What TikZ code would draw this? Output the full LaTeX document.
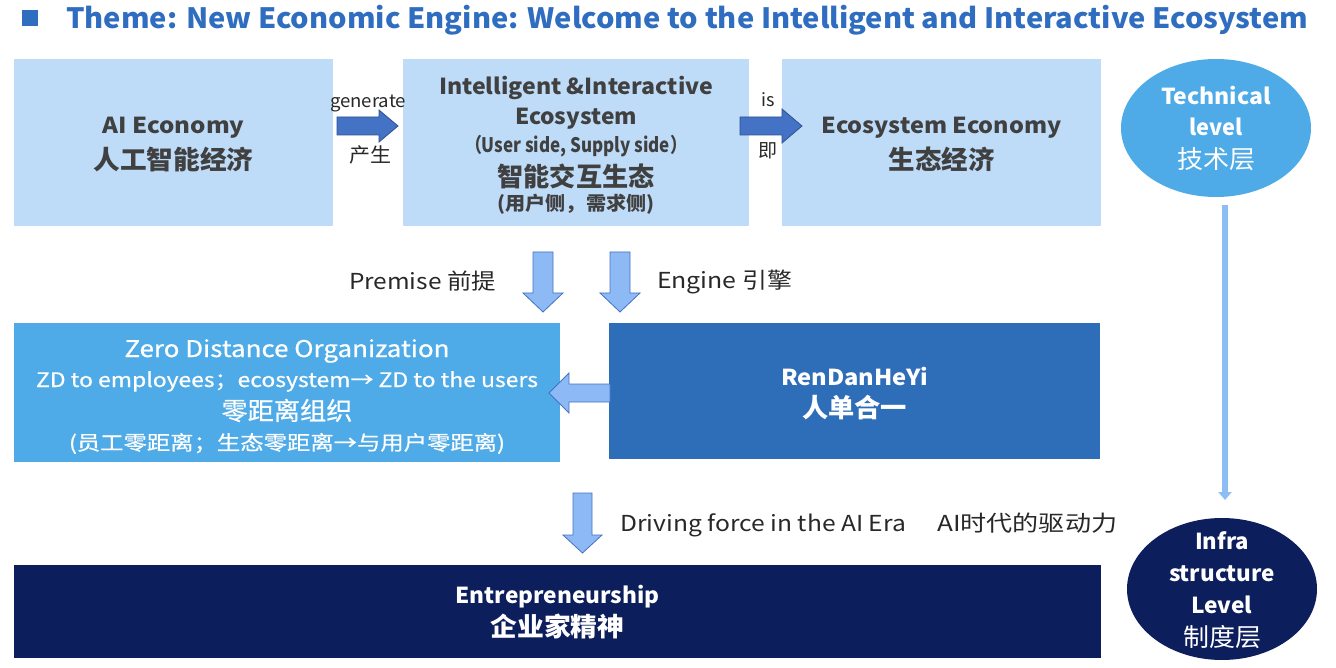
\documentclass[tikz,border=0pt]{standalone}
\usepackage{fontspec}
\usepackage{graphicx}
\setmainfont{Noto Sans CJK SC}
\newfontfamily\medfont[FakeBold=0.6]{Noto Sans CJK SC}
\usetikzlibrary{shapes.geometric,arrows.meta}
\definecolor{titleblue}{RGB}{47,109,192}
\definecolor{lightbox}{RGB}{190,219,248}
\definecolor{graytext}{RGB}{64,64,64}
\definecolor{labeltext}{RGB}{40,40,40}
\definecolor{darkarrow}{RGB}{68,114,196}
\definecolor{darkarrowline}{RGB}{47,82,143}
\definecolor{lightarrow}{RGB}{141,185,245}
\definecolor{lightarrowline}{RGB}{68,114,196}
\definecolor{skyblue}{RGB}{78,171,232}
\definecolor{midblue}{RGB}{46,109,184}
\definecolor{navyblue}{RGB}{13,30,92}
\definecolor{lineblue}{RGB}{141,189,245}
\newcommand\fw[2]{\resizebox{#1pt}{\height}{#2}}
\newcommand\fs[1]{\fontsize{#1}{#1}\selectfont}
\tikzset{
  lbox/.style={rectangle, fill=lightbox, draw=none, inner sep=0pt},
  cbox/.style={rectangle, draw=none, inner sep=0pt},
  txt/.style={inner sep=0pt, anchor=base},
  darkarr/.style={fill=darkarrow, draw=darkarrowline, line width=0.8pt, line join=miter},
  lightarr/.style={fill=lightarrow, draw=lightarrowline, line width=0.8pt, line join=miter},
}
\begin{document}
\begin{tikzpicture}[x=1pt,y=-1pt]
\useasboundingbox (0,0) rectangle (1336,668);
\fill[white] (0,0) rectangle (1336,668);
% title
\fill[titleblue] (22,10) rectangle (38,26);
\node[txt, anchor=base west, text=titleblue, font=\fs{28}\bfseries] (title) at (66,28.5)
  {\fw{1242}{Theme: New Economic Engine: Welcome to the Intelligent and Interactive Ecosystem}};
% top row boxes
\node[lbox, minimum width=319pt, minimum height=167pt] (b1) at (173.5,142.5) {};
\node[lbox, minimum width=346pt, minimum height=167pt] (b2) at (576,142.5) {};
\node[lbox, minimum width=319pt, minimum height=167pt] (b3) at (941.5,142.5) {};
\begin{scope}[text=graytext]
\node[txt, font=\fs{22}\bfseries] (t1a) at (173.5,134) {\fw{142}{AI Economy}};
\node[txt, font=\fs{26}\bfseries] (t1b) at (173.5,170) {\fw{160}{人工智能经济}};
\node[txt, font=\fs{22}\bfseries] (t2a) at (576,95) {\fw{274}{Intelligent \&Interactive}};
\node[txt, font=\fs{22}\bfseries] (t2b) at (576,125) {\fw{122}{Ecosystem}};
\node[txt, font=\fs{20}\bfseries] (t2c) at (576,153) {\fw{222}{（User side, Supply side）}};
\node[txt, font=\fs{26}\bfseries] (t2d) at (576,187) {\fw{157}{智能交互生态}};
\node[txt, font=\fs{19}\bfseries] (t2e) at (576,211) {\fw{157}{(用户侧，需求侧)}};
\node[txt, font=\fs{22}\bfseries] (t3a) at (941.5,134) {\fw{240}{Ecosystem Economy}};
\node[txt, font=\fs{26}\bfseries] (t3b) at (941.5,170) {\fw{106}{生态经济}};
\end{scope}
% generate arrow
\draw[darkarr] (337,117) -- (379,117) -- (379,110) -- (398,126) -- (379,142) -- (379,135) -- (337,135) -- cycle;
\node[txt, text=labeltext, font=\fs{18}] (g1) at (368,108) {\fw{76}{generate}};
\node[txt, text=labeltext, font=\fs{20}] (g2) at (370,163) {\fw{42}{产生}};
% is arrow
\draw[darkarr] (740,117) -- (782,117) -- (782,109) -- (802,126) -- (782,143) -- (782,135) -- (740,135) -- cycle;
\node[txt, text=labeltext, font=\fs{18}] (i1) at (768,107) {is};
\node[txt, text=labeltext, font=\fs{19}] (i2) at (768,158) {即};
% ellipses
\node[ellipse, fill=skyblue, minimum width=190pt, minimum height=138pt, inner sep=0pt] (e1) at (1216,128) {};
\node[ellipse, fill=navyblue, minimum width=190pt, minimum height=142pt, inner sep=0pt] (e2) at (1222,589) {};
\begin{scope}[text=white]
\node[txt, font=\fs{22}\bfseries] (e1a) at (1216,105) {\fw{110}{Technical}};
\node[txt, font=\fs{22}\bfseries] (e1b) at (1216,136) {\fw{53}{level}};
\node[txt, font=\fs{25}] (e1c) at (1216,169) {\fw{78}{技术层}};
\node[txt, font=\fs{22}\bfseries] (e2a) at (1222,549) {\fw{54}{Infra}};
\node[txt, font=\fs{22}\bfseries] (e2b) at (1222,581) {\fw{106}{structure}};
\node[txt, font=\fs{22}\bfseries] (e2c) at (1222,613) {\fw{61}{Level}};
\node[txt, font=\fs{25}] (e2d) at (1222,646) {\fw{78}{制度层}};
\end{scope}
\coordinate (va) at (1225,205);
\coordinate (vb) at (1225,500);
\draw[line width=6pt, lineblue, -{Triangle[width=13pt,length=8pt]}] (va) -- (vb);
% down arrows
\draw[lightarr] (533,252) -- (553,252) -- (553,293) -- (563,293) -- (543,312) -- (523,293) -- (533,293) -- cycle;
\draw[lightarr] (610,252) -- (630,252) -- (630,293) -- (640,293) -- (620,312) -- (600,293) -- (610,293) -- cycle;
\node[txt, text=labeltext, font=\fs{22}] (pl) at (422.5,290) {\fw{147}{Premise 前提}};
\node[txt, text=labeltext, font=\fs{22}] (el) at (724.5,288) {\fw{135}{Engine 引擎}};
% middle row
\node[cbox, fill=skyblue, minimum width=546pt, minimum height=139pt] (zd) at (287,392.5) {};
\node[cbox, fill=midblue, minimum width=491pt, minimum height=136pt] (rd) at (854.5,391) {};
\begin{scope}[text=white]
\node[txt, font=\medfont\fs{23}] (z1) at (287,357) {\fw{325}{Zero Distance Organization}};
\node[txt, font=\medfont\fs{20}] (z2) at (287,387) {\fw{502}{ZD to employees；ecosystem→ ZD to the users}};
\node[txt, font=\medfont\fs{25}] (z3) at (287,420) {\fw{131}{零距离组织}};
\node[txt, font=\medfont\fs{20}] (z4) at (287,450) {\fw{436}{(员工零距离；生态零距离→与用户零距离)}};
\node[txt, font=\fs{22}\bfseries] (r1) at (854.5,385) {\fw{147}{RenDanHeYi}};
\node[txt, font=\fs{26}\bfseries] (r2) at (854.5,417) {\fw{105}{人单合一}};
\end{scope}
% left arrow
\draw[lightarr] (610,384) -- (569,384) -- (569,373) -- (549,393) -- (569,413) -- (569,402) -- (610,402) -- cycle;
% driving arrow
\draw[lightarr] (573,493) -- (592,493) -- (592,535) -- (602,535) -- (582.5,553) -- (563,535) -- (573,535) -- cycle;
\node[txt, anchor=base west, text=labeltext, font=\fs{22}] (dl) at (620,531)
  {\fw{286}{Driving force in the AI Era}\hspace{31pt}\fw{180}{AI时代的驱动力}};
% bottom
\node[cbox, fill=navyblue, minimum width=1087pt, minimum height=93pt] (en) at (557.5,611.5) {};
\node[txt, text=white, font=\fs{22}\bfseries] (n1) at (557.5,603) {\fw{204}{Entrepreneurship}};
\node[txt, text=white, font=\fs{26}\bfseries] (n2) at (557.5,636) {\fw{134}{企业家精神}};
\end{tikzpicture}
\end{document}
